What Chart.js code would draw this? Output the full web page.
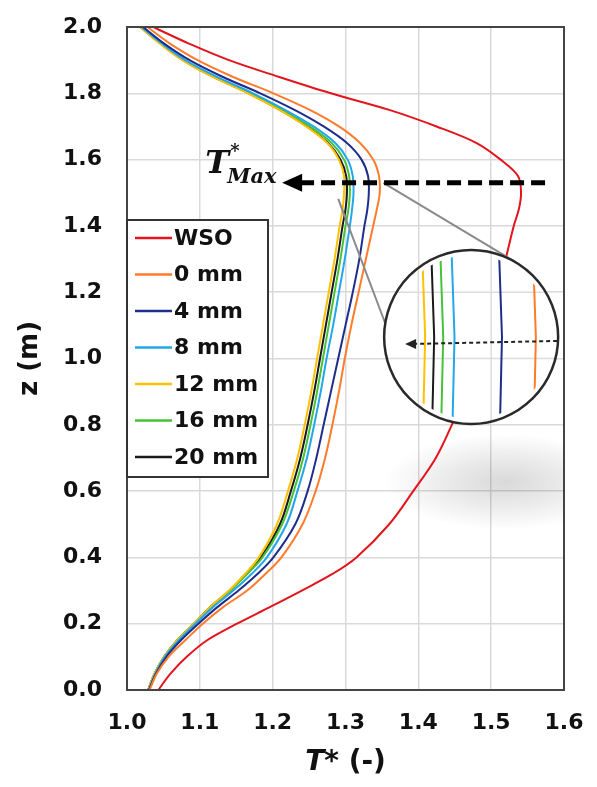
<!DOCTYPE html>
<html>
<head>
<meta charset="utf-8">
<script src="https://cdn.jsdelivr.net/npm/chart.js@4"></script>
<style>
  html, body { margin: 0; padding: 0; background: #fff; }
  #wrap { width: 597px; height: 787px; }
</style>
</head>
<body>
<div id="wrap"><canvas id="mainChart" width="597" height="787"></canvas></div>
<script>
// ============================
// Data
// ============================
const zLevels = [0, 0.05, 0.1, 0.15, 0.2, 0.25, 0.3, 0.35, 0.4, 0.5, 0.6, 0.7, 0.8, 0.9, 1.0,
  1.1, 1.2, 1.3, 1.4, 1.45, 1.5, 1.55, 1.6, 1.65, 1.7, 1.75, 1.8, 1.85, 1.9, 1.95, 2.0];

const tWSO  = [1.043, 1.060, 1.082, 1.110, 1.151, 1.196, 1.240, 1.282, 1.315, 1.360, 1.393, 1.424, 1.446, 1.465, 1.482,
  1.497, 1.510, 1.520, 1.531, 1.538, 1.541, 1.537, 1.513, 1.480, 1.425, 1.360, 1.280, 1.208, 1.140, 1.085, 1.036];
const t0mm  = [1.031, 1.041, 1.057, 1.080, 1.104, 1.132, 1.165, 1.190, 1.212, 1.241, 1.259, 1.272, 1.282, 1.291, 1.299,
  1.308, 1.318, 1.328, 1.338, 1.343, 1.347, 1.346, 1.338, 1.320, 1.291, 1.251, 1.201, 1.145, 1.097, 1.059, 1.028];
const t4mm  = [1.030, 1.040, 1.054, 1.074, 1.098, 1.124, 1.153, 1.179, 1.201, 1.231, 1.248, 1.260, 1.270, 1.280, 1.290,
  1.300, 1.310, 1.319, 1.326, 1.330, 1.332, 1.331, 1.322, 1.302, 1.270, 1.230, 1.183, 1.131, 1.086, 1.051, 1.022];
const t8mm  = [1.030, 1.039, 1.052, 1.071, 1.094, 1.118, 1.146, 1.171, 1.192, 1.219, 1.234, 1.247, 1.257, 1.266, 1.274,
  1.283, 1.291, 1.299, 1.306, 1.309, 1.311, 1.310, 1.303, 1.286, 1.256, 1.217, 1.173, 1.123, 1.080, 1.048, 1.020];
const t12mm = [1.029, 1.038, 1.051, 1.069, 1.092, 1.114, 1.140, 1.162, 1.181, 1.206, 1.221, 1.234, 1.244, 1.253, 1.261,
  1.269, 1.277, 1.285, 1.292, 1.296, 1.298, 1.298, 1.291, 1.275, 1.246, 1.209, 1.166, 1.117, 1.076, 1.045, 1.018];
const t16mm = [1.029, 1.038, 1.051, 1.069, 1.092, 1.115, 1.142, 1.165, 1.186, 1.213, 1.229, 1.242, 1.252, 1.261, 1.269,
  1.277, 1.285, 1.293, 1.300, 1.304, 1.306, 1.305, 1.298, 1.281, 1.251, 1.213, 1.169, 1.120, 1.078, 1.047, 1.019];
const t20mm = [1.029, 1.038, 1.051, 1.069, 1.092, 1.114, 1.141, 1.164, 1.184, 1.210, 1.225, 1.238, 1.248, 1.257, 1.265,
  1.273, 1.281, 1.289, 1.296, 1.300, 1.302, 1.301, 1.293, 1.276, 1.247, 1.210, 1.167, 1.118, 1.077, 1.046, 1.018];

const seriesLabels = ["WSO", "0 mm", "4 mm", "8 mm", "12 mm", "16 mm", "20 mm"];
const seriesValues = [tWSO, t0mm, t4mm, t8mm, t12mm, t16mm, t20mm];
const seriesColors = ["#e3141b", "#ff7b2c", "#1f2d8a", "#22a6ec", "#ffc000", "#45c236", "#1a1a1a"];

const xTicks = [1.0, 1.1, 1.2, 1.3, 1.4, 1.5, 1.6];
const yTicks = [0.0, 0.2, 0.4, 0.6, 0.8, 1.0, 1.2, 1.4, 1.6, 1.8, 2.0];

// annotation anchors (data units)
const arrowZ = 1.53, arrowFromT = 1.574, arrowToT = 1.213;
const insetZ = 1.5;                 // level shown in the magnifier
const lensT = 1.4725, lensZ = 1.065; // magnifier centre

const FONT = '"DejaVu Sans", sans-serif';

// ============================
// Build datasets
// ============================
const datasets = seriesLabels.map((label, i) => ({
  label,
  data: zLevels.map((z, k) => ({ x: seriesValues[i][k], y: z })),
  borderColor: seriesColors[i],
  borderWidth: 2,
  pointRadius: 0,
  showLine: true,
  tension: 0.35,
  fill: false
}));

// ============================
// Decorations plugin
// ============================
const decorPlugin = {
  id: "decor",
  beforeDatasetsDraw(chart) {
    const { ctx, chartArea: a } = chart;
    // soft grey shadow under the lens
    ctx.save();
    ctx.beginPath();
    ctx.rect(a.left, a.top, a.right - a.left, a.bottom - a.top);
    ctx.clip();
    ctx.translate(505, 482);
    ctx.scale(1, 0.4);
    const g = ctx.createRadialGradient(0, 0, 0, 0, 0, 120);
    g.addColorStop(0, "rgba(0,0,0,0.15)");
    g.addColorStop(0.5, "rgba(0,0,0,0.08)");
    g.addColorStop(1, "rgba(0,0,0,0)");
    ctx.fillStyle = g;
    ctx.beginPath();
    ctx.arc(0, 0, 120, 0, Math.PI * 2);
    ctx.fill();
    ctx.restore();
  },
  afterDatasetsDraw(chart) {
    const { ctx, chartArea: a, scales: { x, y } } = chart;
    const k = zLevels.indexOf(insetZ);

    // frame
    ctx.save();
    ctx.strokeStyle = "#444";
    ctx.lineWidth = 2;
    ctx.strokeRect(a.left, a.top, a.right - a.left, a.bottom - a.top);
    ctx.restore();

    const cx = x.getPixelForValue(lensT), cy = y.getPixelForValue(lensZ), r = 87;
    const ay = y.getPixelForValue(arrowZ);

    // connector lines to the lens
    ctx.save();
    ctx.strokeStyle = "#8a8a8a";
    ctx.lineWidth = 2;
    ctx.beginPath();
    ctx.moveTo(x.getPixelForValue(t0mm[k] + 0.005), ay);
    ctx.lineTo(cx + r * Math.cos(-1.04), cy + r * Math.sin(-1.04));
    ctx.moveTo(x.getPixelForValue(t20mm[k] - 0.012), ay + 16);
    ctx.lineTo(cx + r * Math.cos(3.3), cy + r * Math.sin(3.3));
    ctx.stroke();
    ctx.restore();

    // lens body
    ctx.save();
    ctx.beginPath();
    ctx.arc(cx, cy, r, 0, Math.PI * 2);
    ctx.fillStyle = "#fff";
    ctx.fill();
    ctx.clip();
    ctx.strokeStyle = "#dcdcdc";
    ctx.lineWidth = 1.5;
    xTicks.forEach(v => {
      const px = x.getPixelForValue(v);
      ctx.beginPath(); ctx.moveTo(px, cy - r); ctx.lineTo(px, cy + r); ctx.stroke();
    });
    yTicks.forEach(v => {
      const py = y.getPixelForValue(v);
      ctx.beginPath(); ctx.moveTo(cx - r, py); ctx.lineTo(cx + r, py); ctx.stroke();
    });
    // magnified profiles at z = insetZ
    ctx.beginPath();
    ctx.arc(cx, cy, r - 5, 0, Math.PI * 2);
    ctx.clip();
    const base = t12mm[k], mag = 2260, x0 = cx - 49;
    for (let i = seriesValues.length - 1; i >= 1; i--) {
      const px = x0 + (seriesValues[i][k] - base) * mag;
      ctx.strokeStyle = seriesColors[i];
      ctx.lineWidth = 2;
      ctx.beginPath();
      ctx.moveTo(px, cy - r);
      ctx.lineTo(px + 3, cy);
      ctx.lineTo(px + 1, cy + r);
      ctx.stroke();
    }
    ctx.restore();

    // dotted arrow in lens
    ctx.save();
    ctx.strokeStyle = "#222";
    ctx.fillStyle = "#222";
    ctx.lineWidth = 2;
    ctx.setLineDash([4, 3]);
    ctx.beginPath();
    ctx.moveTo(cx + r - 1, cy + 4);
    ctx.lineTo(cx - 58, cy + 7);
    ctx.stroke();
    ctx.setLineDash([]);
    ctx.beginPath();
    ctx.moveTo(cx - 66, cy + 7);
    ctx.lineTo(cx - 55, cy + 2);
    ctx.lineTo(cx - 55, cy + 12);
    ctx.closePath();
    ctx.fill();
    ctx.restore();

    // lens rim
    ctx.save();
    ctx.strokeStyle = "#2a2a2a";
    ctx.lineWidth = 2.5;
    ctx.beginPath();
    ctx.arc(cx, cy, r, 0, Math.PI * 2);
    ctx.stroke();
    ctx.restore();

    // thick dashed T*max arrow
    const axFrom = x.getPixelForValue(arrowFromT), axTo = x.getPixelForValue(arrowToT);
    ctx.save();
    ctx.strokeStyle = "#000";
    ctx.fillStyle = "#000";
    ctx.lineWidth = 5;
    ctx.setLineDash([14, 7]);
    ctx.beginPath();
    ctx.moveTo(axFrom, ay);
    ctx.lineTo(axTo + 16, ay);
    ctx.stroke();
    ctx.setLineDash([]);
    ctx.beginPath();
    ctx.moveTo(axTo, ay);
    ctx.lineTo(axTo + 20, ay - 9);
    ctx.lineTo(axTo + 20, ay + 9);
    ctx.closePath();
    ctx.fill();
    ctx.restore();

    // T*Max label
    ctx.save();
    ctx.fillStyle = "#111";
    ctx.textBaseline = "alphabetic";
    ctx.textAlign = "left";
    const lx = axTo - 77, ly = ay - 10;
    ctx.font = 'italic bold 32px "DejaVu Serif", serif';
    ctx.fillText("T", lx, ly);
    ctx.font = 'italic bold 18px "DejaVu Serif", serif';
    ctx.fillText("*", lx + 25, ly - 16);
    ctx.font = 'italic bold 21px "DejaVu Serif", serif';
    ctx.fillText("Max", lx + 22, ly + 10);
    ctx.restore();
  },
  afterDraw(chart) {
    const { ctx, chartArea: a } = chart;
    // legend box
    const bx = a.left, by = 220, bw = 141, bh = 257;
    ctx.save();
    ctx.fillStyle = "#fff";
    ctx.fillRect(bx, by, bw, bh);
    ctx.strokeStyle = "#333";
    ctx.lineWidth = 2;
    ctx.strokeRect(bx, by, bw, bh);
    ctx.font = "bold 22px " + FONT;
    ctx.textBaseline = "middle";
    ctx.textAlign = "left";
    seriesLabels.forEach((lab, i) => {
      const ly = by + 18 + i * 36.5;
      ctx.strokeStyle = seriesColors[i];
      ctx.lineWidth = 2.5;
      ctx.beginPath();
      ctx.moveTo(bx + 8, ly);
      ctx.lineTo(bx + 45, ly);
      ctx.stroke();
      ctx.fillStyle = "#111";
      ctx.fillText(lab, bx + 47, ly + 1);
    });
    ctx.restore();

    // axis titles
    ctx.save();
    ctx.fillStyle = "#111";
    ctx.textBaseline = "middle";
    ctx.font = "italic bold 28px " + FONT;
    const t1 = "T*", t2 = " (-)";
    const w1 = ctx.measureText(t1).width;
    ctx.font = "bold 28px " + FONT;
    const w2 = ctx.measureText(t2).width;
    const tx = (a.left + a.right) / 2 - (w1 + w2) / 2;
    ctx.font = "italic bold 28px " + FONT;
    ctx.fillText(t1, tx, 763);
    ctx.font = "bold 28px " + FONT;
    ctx.fillText(t2, tx + w1, 763);

    ctx.translate(30, (a.top + a.bottom) / 2);
    ctx.rotate(-Math.PI / 2);
    ctx.textAlign = "center";
    ctx.font = "bold 26px " + FONT;
    ctx.fillText("z (m)", 0, 0);
    ctx.restore();
  }
};

// ============================
// Chart
// ============================
const ctx = document.getElementById("mainChart").getContext("2d");
const mainChart = new Chart(ctx, {
  type: "scatter",
  data: { datasets },
  options: {
    responsive: false,
    animation: false,
    layout: { padding: { top: 27, right: 33, left: 0, bottom: 0 } },
    plugins: {
      legend: { display: false },
      tooltip: { enabled: false }
    },
    scales: {
      x: {
        type: "linear",
        min: 1.0,
        max: 1.6,
        afterFit(scale) {
          scale.height = 97;
          scale.paddingLeft = 0;
          scale.paddingRight = 0;
        },
        afterBuildTicks(scale) { scale.ticks = xTicks.map(v => ({ value: v })); },
        grid: { color: "#d9d9d9", lineWidth: 1.5, drawTicks: false },
        border: { display: true, color: "#444", width: 2 },
        ticks: {
          padding: 20,
          color: "#111",
          font: { size: 22, weight: "bold", family: FONT },
          callback: v => Number(v).toFixed(1)
        }
      },
      y: {
        type: "linear",
        min: 0,
        max: 2.0,
        afterFit(scale) {
          scale.width = 127;
          scale.paddingTop = 0;
          scale.paddingBottom = 0;
        },
        afterBuildTicks(scale) { scale.ticks = yTicks.map(v => ({ value: v })); },
        grid: { color: "#d9d9d9", lineWidth: 1.5, drawTicks: false },
        border: { display: true, color: "#444", width: 2 },
        ticks: {
          padding: 25,
          color: "#111",
          font: { size: 22, weight: "bold", family: FONT },
          callback: v => Number(v).toFixed(1)
        }
      }
    }
  },
  plugins: [decorPlugin]
});
</script>
</body>
</html>
